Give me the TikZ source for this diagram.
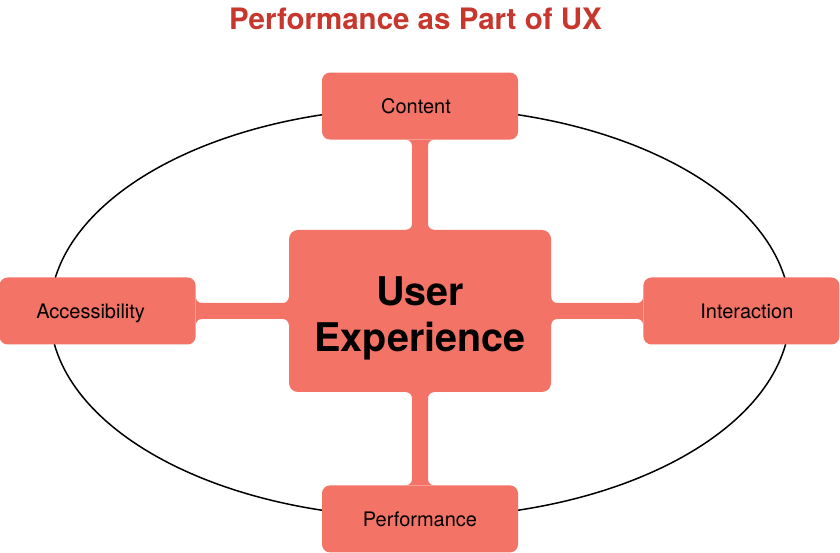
\documentclass[tikz,border=0pt]{standalone}
\usepackage{fontspec}
\setmainfont{TeX Gyre Heros}
\usetikzlibrary{positioning,calc}
\definecolor{uxsalmon}{HTML}{F37366}
\definecolor{uxtitle}{HTML}{C8372D}
\tikzset{
    every node/.style={font=\fontsize{20}{24}\selectfont},
    facet/.style={rectangle,rounded corners=8pt,fill=uxsalmon,minimum width=196pt,minimum height=67pt,inner sep=0pt,text height=14.4pt,text depth=0pt},
    core/.style={rectangle,rounded corners=9pt,fill=uxsalmon,minimum width=262pt,minimum height=162pt,inner sep=0pt},
    coretext/.style={align=center,font=\fontsize{39.5}{46}\selectfont\bfseries},
    headline/.style={text=uxtitle,font=\fontsize{29.5}{34}\selectfont\bfseries},
    orbit/.style={draw=black,line width=1.5pt},
    node distance=90pt
}
% stems with concave fillets between two boxes
\newcommand{\vstem}[2]{%
  \fill[uxsalmon] ($(#1.south)+(-14,0)$) arc[start angle=90,end angle=0,radius=6]
    -- ($(#2.north)+(-8,6)$) arc[start angle=0,end angle=-90,radius=6]
    -- ($(#2.north)+(14,0)$) arc[start angle=270,end angle=180,radius=6]
    -- ($(#1.south)+(8,-6)$) arc[start angle=180,end angle=90,radius=6] -- cycle;}
\newcommand{\hstem}[2]{%
  \fill[uxsalmon] ($(#1.east)+(0,14)$) arc[start angle=180,end angle=270,radius=6]
    -- ($(#2.west)+(-6,8)$) arc[start angle=270,end angle=360,radius=6]
    -- ($(#2.west)+(0,-14)$) arc[start angle=0,end angle=90,radius=6]
    -- ($(#1.east)+(6,-8)$) arc[start angle=90,end angle=180,radius=6] -- cycle;}
\begin{document}
\begin{tikzpicture}[x=1pt,y=1pt]
\useasboundingbox (0,0) rectangle (840,553);
\draw[orbit] (420,240.5) ellipse[x radius=370,y radius=205];

\node[core,label={[coretext,yshift=-7pt]center:{User\\Experience}}] (ux) at (420,242) {};
\node[facet,above=90pt of ux] (content) {Content\hspace*{8pt}};
\node[facet,below=93pt of ux] (perf) {Performance};
\node[facet,left=93pt of ux] (access) {Accessibility\hspace*{14pt}};
\node[facet,right=92pt of ux] (inter) {\hspace*{11pt}Interaction};

\vstem{content}{ux}
\vstem{ux}{perf}
\hstem{access}{ux}
\hstem{ux}{inter}

\node[headline] (title) at (415.5,534) {Performance as Part of UX};
\end{tikzpicture}
\end{document}
